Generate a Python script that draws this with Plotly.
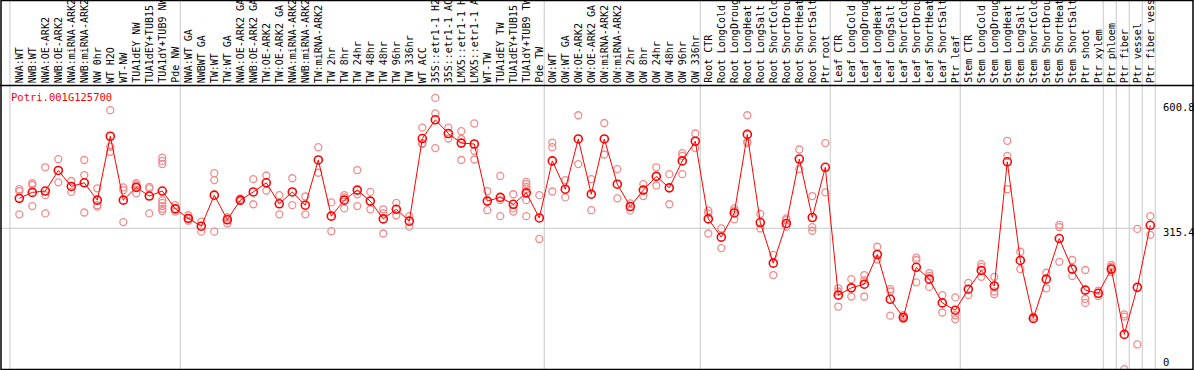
import plotly.graph_objects as go

gene_id = "Potri.001G125700"

categories = [
    "NWA:WT", "NWB:WT", "NWA:OE-ARK2", "NWB:OE-ARK2", "NWA:miRNA-ARK2", "NWB:miRNA-ARK2",
    "NW 0hr", "WT H2O", "WT-NW", "TUA1dEY NW", "TUA1dEY+TUB15", "TUA1dY+TUB9 NW", "Pde NW",
    "NWA:WT GA", "NWBWT GA", "TW:WT", "TW:WT GA", "NWA:OE-ARK2 GA", "NWB:OE-ARK2 GA",
    "TW:OE-ARK2", "TW:OE-ARK2 GA", "NWA:miRNA-ARK2", "NWB:miRNA-ARK2", "TW:miRNA-ARK2",
    "TW 2hr", "TW 8hr", "TW 24hr", "TW 48hr", "TW 48hr", "TW 96hr", "TW 336hr", "WT ACC",
    "35S::etr1-1 H2", "35S::etr1-1 AC", "LMX5::etr1-1 H", "LMX5::etr1-1 A", "WT-TW",
    "TUA1dEY TW", "TUA1dEY+TUB15", "TUA1dY+TUB9 TW", "Pde TW",
    "OW:WT", "OW:WT GA", "OW:OE-ARK2", "OW:OE-ARK2 GA", "OW:miRNA-ARK2", "OW:miRNA-ARK2",
    "OW 2hr", "OW 8hr", "OW 24hr", "OW 48hr", "OW 96hr", "OW 336hr",
    "Root CTR", "Root LongCold", "Root LongDroug", "Root LongHeat", "Root LongSalt",
    "Root ShortCold", "Root ShortDrou", "Root ShortHeat", "Root ShortSalt", "Ptr root",
    "Leaf CTR", "Leaf LongCold", "Leaf LongDroug", "Leaf LongHeat", "Leaf LongSalt",
    "Leaf ShortCold", "Leaf ShortDrou", "Leaf ShortHeat", "Leaf ShortSalt", "Ptr leaf",
    "Stem CTR", "Stem LongCold", "Stem LongDroug", "Stem LongHeat", "Stem LongSalt",
    "Stem ShortCold", "Stem ShortDrou", "Stem ShortHeat", "Stem ShortSalt", "Ptr shoot",
    "Ptr xylem", "Ptr phloem", "Ptr fiber", "Ptr vessel", "Ptr fiber vess",
]

mean_values = [
    381, 394, 397, 442, 407, 415, 377, 517, 377, 405, 386, 397, 358,
    337, 320, 388, 334, 377, 395, 415, 369, 395, 366, 465, 342, 377, 399, 375, 336,
    357, 331, 512, 553, 523, 502, 500, 375, 383, 368, 393, 338,
    463, 401, 511, 390, 511, 412, 363, 399, 429, 404, 463, 506,
    336, 296, 349, 521, 328, 239, 326, 467, 339, 449,
    169, 185, 193, 258, 160, 120, 230, 204, 152, 136,
    182, 223, 189, 461, 245, 118, 204, 293, 226, 180, 173,
    226, 83, 186, 322,
]

replicates = [
    [401, 397, 346], [414, 410, 364], [449, 388, 348], [467, 416], [419, 395],
    [465, 432, 350], [403, 366, 363], [574, 494, 483], [405, 399, 329], [414, 410, 392],
    [406, 403, 348], [470, 463, 456, 377, 371, 364, 358, 353], [366, 352],
    [344, 337, 332], [330, 308], [436, 421, 308], [337, 326, 340], [381, 377, 375],
    [423, 368], [431, 398], [388, 346], [425, 366], [385, 346], [493, 437],
    [372, 309], [388, 383, 359], [443, 390, 364], [395, 357], [357, 348, 304],
    [371, 344], [342, 319], [536, 502, 500], [601, 567, 491], [536, 512],
    [528, 511, 465], [545, 485, 466], [397, 355], [430, 377, 342], [390, 359, 352],
    [417, 412, 406, 401, 377, 342], [388, 292],
    [503, 493, 396], [421, 383], [563, 456], [423, 355], [546, 477], [445, 381],
    [370, 354], [412, 386], [449, 409], [434, 368], [480, 474, 434], [523, 491],
    [354, 348, 304], [315, 272], [359, 354, 335], [563, 505, 502], [347, 315],
    [257, 213], [337, 334, 319], [488, 445], [386, 318, 310], [502, 394],
    [184, 177, 144], [204, 166], [213, 202, 166], [275, 247], [182, 177, 124],
    [125, 122, 117], [251, 246, 197], [217, 211, 187], [169, 131], [164, 125, 116],
    [196, 169], [237, 231, 209], [209, 177, 171], [507, 474, 401], [264, 226],
    [122, 117], [218, 184], [323, 318, 242], [246, 211], [224, 161, 152], [179, 167],
    [235, 231, 220], [127, 122, 7], [314, 61], [342, 301],
]

group_ends = [12, 40, 52, 62, 72, 83, 84, 85, 86, 87]
axis_labels = ["600.8", "315.4", "0"]
axis_label_px = [107, 232, 362]
gridline_value = 315.4

W, H = 1194, 370
X0_PX, STEP_PX = 19.3, 13.0
Y0_PX, Y_SCALE = 372.3, 0.4566
mono = "DejaVu Sans Mono"

xi = list(range(len(categories)))
rep_x, rep_y = [], []
for i, reps in enumerate(replicates):
    for v in reps:
        rep_x.append(i)
        rep_y.append(v)

fig = go.Figure()
fig.add_trace(go.Scatter(
    x=rep_x, y=rep_y, mode="markers", hoverinfo="skip",
    marker=dict(symbol="circle-open", size=7, color="#f08c8c", line=dict(width=1.3, color="#f08c8c")),
))
fig.add_trace(go.Scatter(
    x=xi, y=mean_values, mode="lines+markers",
    line=dict(color="#ff0000", width=1),
    marker=dict(symbol="circle-open", size=8, color="#ff0000", line=dict(width=1.6, color="#ff0000")),
))

shapes = []
sep_positions = [-0.72] + [g + 0.38 for g in group_ends]
for s in sep_positions:
    shapes.append(dict(type="line", xref="x", yref="paper", x0=s, x1=s, y0=0, y1=1,
                       line=dict(color="#c8c8c8", width=1), layer="below"))
shapes.append(dict(type="line", xref="paper", yref="y", x0=0, x1=1160 / W,
                   y0=gridline_value, y1=gridline_value,
                   line=dict(color="#c8c8c8", width=1), layer="below"))
shapes.append(dict(type="line", xref="paper", yref="paper", x0=0, x1=1, y0=1 - 85.5 / H, y1=1 - 85.5 / H,
                   line=dict(color="black", width=1.5)))
shapes.append(dict(type="rect", xref="paper", yref="paper", x0=1 / W, x1=1 - 1 / W, y0=0.5 / H, y1=1 - 0.5 / H,
                   line=dict(color="black", width=1.5)))

annotations = []
for i, c in enumerate(categories):
    annotations.append(dict(x=i, y=1 - 84 / H, xref="x", yref="paper", text=c, textangle=-90,
                            showarrow=False, xanchor="center", yanchor="bottom", borderpad=0,
                            font=dict(family=mono, size=10, color="black")))
annotations.append(dict(x=10 / W, y=1 - 97 / H, xref="paper", yref="paper", text=gene_id,
                        showarrow=False, xanchor="left", yanchor="middle", borderpad=0,
                        font=dict(family=mono, size=10.5, color="#ff0000")))
for t, py in zip(axis_labels, axis_label_px):
    annotations.append(dict(x=1162 / W, y=1 - py / H, xref="paper", yref="paper", text=t,
                            showarrow=False, xanchor="left", yanchor="middle", borderpad=0,
                            font=dict(family=mono, size=10.5, color="black")))

x_lo = -X0_PX / STEP_PX
x_hi = x_lo + W / STEP_PX
y_lo = (Y0_PX - H) / Y_SCALE
y_hi = Y0_PX / Y_SCALE

fig.update_layout(
    width=W, height=H, margin=dict(l=0, r=0, t=0, b=0),
    paper_bgcolor="white", plot_bgcolor="white", showlegend=False,
    xaxis=dict(range=[x_lo, x_hi], visible=False, fixedrange=True),
    yaxis=dict(range=[y_lo, y_hi], visible=False, fixedrange=True),
    shapes=shapes, annotations=annotations,
)
fig.write_html(
    "out.html",
    config={"displayModeBar": False},
    post_script="document.body.style.margin='0';document.body.style.padding='0';document.body.style.overflow='hidden';",
)
